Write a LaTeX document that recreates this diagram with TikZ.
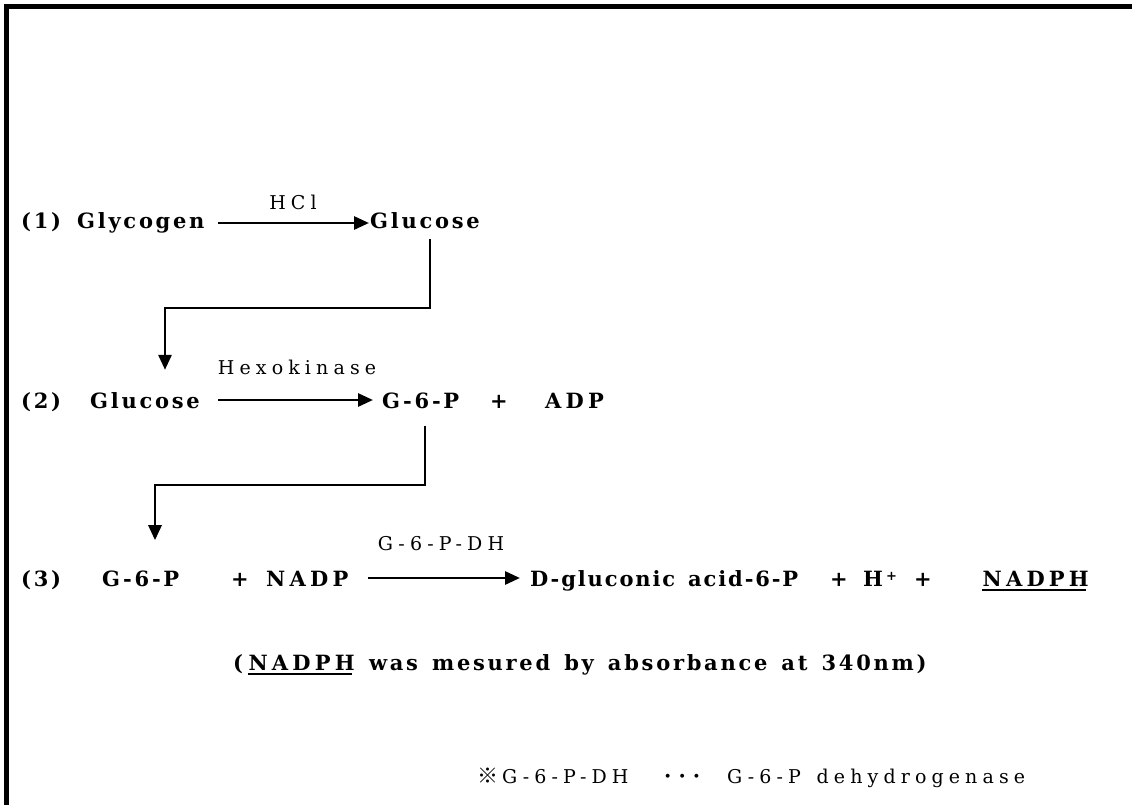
\documentclass[tikz,border=0pt]{standalone}
\usepackage{fontspec}
\usetikzlibrary{arrows.meta}
\setmainfont{DejaVu Serif}
\newfontfamily\mainsp[LetterSpace=13,WordSpace=1.4]{DejaVu Serif}
\newfontfamily\mainspn[LetterSpace=9,WordSpace=1.4]{DejaVu Serif}
\newfontfamily\capsp[LetterSpace=20,WordSpace=1.4]{DejaVu Serif}
\newfontfamily\labsp[LetterSpace=27,WordSpace=1.4]{DejaVu Serif}
\newfontfamily\cjkf{Noto Sans CJK JP}
\tikzset{
  bt/.style={font=\mainsp\bfseries\fontsize{21}{25}\selectfont, inner sep=0pt, anchor=base west},
  bc/.style={bt, font=\capsp\bfseries\fontsize{21}{25}\selectfont},
  lt/.style={font=\labsp\fontsize{19}{23}\selectfont, inner sep=0pt, anchor=base},
  ft/.style={font=\labsp\fontsize{19}{23}\selectfont, inner sep=0pt, anchor=base west},
  rx/.style={line width=2.8pt, -{Triangle[length=15pt,width=13pt]}},
  ul/.style={line width=1.8pt}
}
\begin{document}
\begin{tikzpicture}[x=1pt,y=-1pt]
\useasboundingbox (0,0) rectangle (1132,805);
\fill[white] (0,0) rectangle (1132,805);
% border
\draw[line width=5pt] (6.5,805) -- (6.5,6.5) -- (1132,6.5);
% arrow start points
\coordinate (s1) at (218,223);
\coordinate (s2) at (218,400);
\coordinate (s3) at (368,578);
% row 1
\node[bt] (n1) at (21,229) {(1)};
\node[bt] (glyc) at (77,229) {Glycogen};
\node[bt] (glucA) at (370,229) {Glucose};
\node[lt] (hcl) at (293,210) {HCl};
\draw[rx, shorten >=1pt] (s1) -- (glucA.west |- s1);
% connector 1
\coordinate (b1) at (430,308);
\coordinate (b2) at (165,308);
% row 2
\node[bt] (n2) at (21,408) {(2)};
\node[bt] (glucB) at (90,408) {Glucose};
\node[lt] (hexo) at (297,374) {Hexokinase};
\node[bt] (g6pA) at (382,408) {G-6-P};
\node[bt] (plusA) at (490,408) {+};
\node[bc] (adp) at (545,408) {ADP};
\draw[rx, shorten >=9pt] (s2) -- (g6pA.west |- s2);
\draw[rx, shorten <=10pt, shorten >=22pt] (glucA.south -| b1) -- (b1) -- (b2) -- (glucB.north -| b2);
% connector 2
\coordinate (b3) at (425,485);
\coordinate (b4) at (155,485);
% row 3
\node[bt] (n3) at (21,586) {(3)};
\node[bt] (g6pB) at (102,586) {G-6-P};
\node[bt] (plusB) at (231,586) {+};
\node[bc] (nadp) at (266,586) {NADP};
\node[lt] (g6pdh) at (441,550) {G-6-P-DH};
\node[bt, font=\mainspn\bfseries\fontsize{21}{25}\selectfont] (dglu) at (530,586) {D-gluconic acid-6-P};
\node[bt] (plusC) at (830,586) {+};
\node[bt] (hplus) at (863,586) {H\hspace{3pt}\raisebox{6pt}{\fontsize{13}{13}\selectfont +}};
\node[bt] (plusD) at (914,586) {+};
\node[bc, anchor=base east] (nadph) at (1089,586) {NADPH};
\draw[ul] ([yshift=-4pt]nadph.base west) -- ([yshift=-4pt,xshift=-3pt]nadph.base east);
\draw[rx, shorten >=10pt] (s3) -- (dglu.west |- s3);
\draw[rx, shorten <=17pt, shorten >=30pt] (g6pA.south -| b3) -- (b3) -- (b4) -- (g6pB.north -| b4);
% line 4
\node[bt] (lp) at (233,670) {(};
\node[bc] (nadph2) at ([xshift=5pt]lp.base east) {NADPH};
\node[bt] (rest) at ([xshift=14pt]nadph2.base east) {was mesured by absorbance at 340nm)};
\draw[ul] ([yshift=-4pt]nadph2.base west) -- ([yshift=-4pt,xshift=-3pt]nadph2.base east);
% footnote
\node[ft, font=\cjkf\fontsize{21}{24}\selectfont] (ref) at (477,783) {※};
\node[ft] (fa) at (502,783) {G-6-P-DH};
\node[ft, font=\bfseries\fontsize{21}{23}\selectfont] (dots) at (664,783) {·\hspace{7pt}·\hspace{7pt}·};
\node[ft] (fb) at (727,783) {G-6-P dehydrogenase};
\end{tikzpicture}
\end{document}
